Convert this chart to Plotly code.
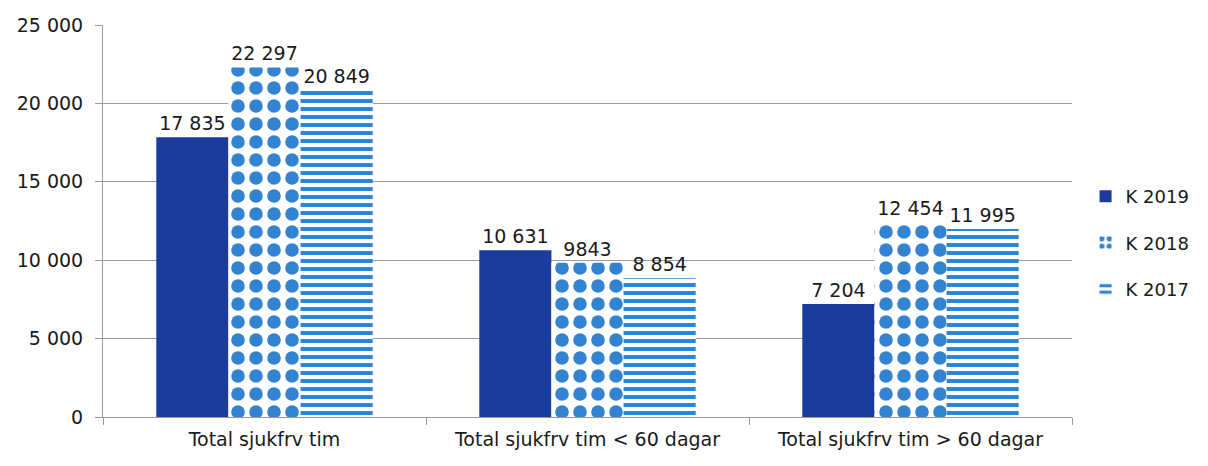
import plotly.graph_objects as go

categories = ["Total sjukfrv tim", "Total sjukfrv tim < 60 dagar", "Total sjukfrv tim > 60 dagar"]
series_names = ["K 2019", "K 2018", "K 2017"]
k2019 = [17835, 10631, 7204]
k2018 = [22297, 9843, 12454]
k2017 = [20849, 8854, 11995]
labels_2019 = ["17 835", "10 631", "7 204"]
labels_2018 = ["22 297", "9843", "12 454"]
labels_2017 = ["20 849", "8 854", "11 995"]
y_ticks = [0, 5000, 10000, 15000, 20000, 25000]
y_tick_labels = ["0", "5 000", "10 000", "15 000", "20 000", "25 000"]

FONT = "DejaVu Sans"
dark = "#1B3C9C"
light = "#3384D0"
txt = "#1a1a1a"

fig = go.Figure()
fig.add_trace(go.Bar(
    name=series_names[0], x=categories, y=k2019, text=labels_2019,
    marker=dict(color=dark, line=dict(width=0)),
    legendgroup="a",
))
fig.add_trace(go.Bar(
    name=series_names[1], x=categories, y=k2018, text=labels_2018,
    marker=dict(color="white", line=dict(width=0),
                pattern=dict(shape=".", fgcolor=light, bgcolor="white", fgopacity=1,
                             size=18, solidity=0.45, fillmode="overlay")),
    legendgroup="b",
))
fig.add_trace(go.Bar(
    name=series_names[2], x=categories, y=k2017, text=labels_2017,
    marker=dict(color="white", line=dict(width=0),
                pattern=dict(shape="-", fgcolor=light, bgcolor="white", fgopacity=1,
                             size=8, solidity=0.5, fillmode="overlay")),
    legendgroup="c",
))

fig.update_traces(textposition="outside", cliponaxis=False,
                  textfont=dict(family=FONT, size=19, color=txt))

fig.update_layout(
    width=1200, height=458,
    margin=dict(l=95, r=136, t=17, b=49, autoexpand=False),
    paper_bgcolor="white", plot_bgcolor="white",
    barmode="group", bargap=0.33, bargroupgap=0,
    font=dict(family=FONT, size=19, color=txt),
    showlegend=True,
    legend=dict(x=1.014, y=0.444, xanchor="left", yanchor="middle",
                font=dict(family=FONT, size=18, color=txt),
                tracegroupgap=20, itemwidth=30),
    xaxis=dict(showline=True, linecolor="#999", linewidth=1,
               ticks="outside", tickson="boundaries", ticklen=7, tickcolor="#999",
               ticklabelstandoff=5,
               tickfont=dict(family=FONT, size=19, color=txt),
               showgrid=False, automargin=False),
    yaxis=dict(range=[0, 25000], tickvals=y_ticks, ticktext=y_tick_labels,
               showline=True, linecolor="#999", linewidth=1,
               ticks="outside", ticklen=7, tickcolor="#999",
               ticklabelstandoff=8,
               showgrid=True, gridcolor="#9a9a9a", gridwidth=1,
               zeroline=False, automargin=False,
               tickfont=dict(family=FONT, size=19, color=txt)),
)

fig.write_html("out.html")
